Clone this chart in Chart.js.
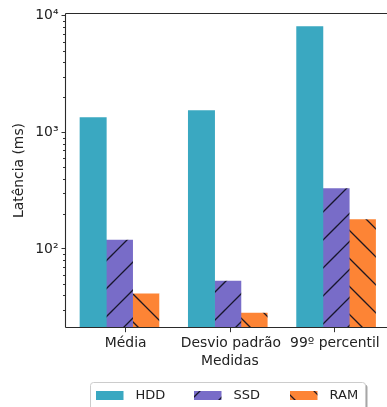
<!DOCTYPE html>
<html><head><meta charset="utf-8">
<script src="https://cdn.jsdelivr.net/npm/chart.js@4/dist/chart.umd.min.js"></script>
<style>html,body{margin:0;padding:0;overflow:hidden;background:#fff;width:387px;height:407px}canvas{display:block}</style>
</head><body>
<canvas id="c" width="400" height="407" style="width:400px;height:407px"></canvas>
<script>
// ---- data ----
const categories = ['Média', 'Desvio padrão', '99º percentil'];
const seriesNames = ['HDD', 'SSD', 'RAM'];
const hddValues = [1337, 1540, 8050];
const ssdValues = [119, 53.2, 330];
const ramValues = [41.2, 28.2, 179];
const yTickValues = [100, 1000, 10000];
const yTickLabels = ['10²', '10³', '10⁴'];
const xTickAt = [0.3, 1.272, 2.232];

// ---- styles ----
const BAR_W = 0.243;
const colors = ['#3aa8c1', '#786cc8', '#fd8435'];
const hatchKinds = [null, '/', '\\'];
const FONT = 'DejaVu Sans';
const TXT = '#222';

function makeFill(color, kind) {
  if (!kind) return color;
  const T = 28;
  const cv = document.createElement('canvas');
  cv.width = T; cv.height = T;
  const g = cv.getContext('2d');
  g.fillStyle = color; g.fillRect(0, 0, T, T);
  g.strokeStyle = 'rgba(15,15,30,0.92)';
  g.lineWidth = 1.3;
  g.beginPath();
  if (kind === '/') {
    const c = 3;
    for (const C of [c - T, c, c + T, c + 2 * T]) { g.moveTo(C + 2, -2); g.lineTo(-2, C + 2); }
  } else {
    const c = 7;
    for (const C of [c - T, c, c + T]) { g.moveTo(C - 2, -2); g.lineTo(C + T + 2, T + 2); }
  }
  g.stroke();
  return g.createPattern(cv, 'repeat');
}
const fills = colors.map((c, k) => makeFill(c, hatchKinds[k]));
const allSeries = [hddValues, ssdValues, ramValues];

const datasets = allSeries.map((vals, k) => ({
  label: seriesNames[k],
  data: vals.map((v, i) => ({x: i + k * BAR_W, y: v})),
  backgroundColor: fills[k],
  borderWidth: 0,
  grouped: false,
  barPercentage: 1,
  categoryPercentage: 1
}));

const framePlugin = {
  id: 'frame',
  afterDraw(chart) {
    const {ctx, chartArea: a, scales} = chart;
    ctx.save();
    const ys = scales.y;
    ctx.strokeStyle = '#333'; ctx.lineWidth = 1;
    ctx.beginPath();
    for (let e = 1; e <= 4; e++) {
      for (let m = 2; m <= 9; m++) {
        const v = m * Math.pow(10, e);
        if (v < ys.min || v > ys.max) continue;
        const py = Math.round(ys.getPixelForValue(v)) + 0.5;
        ctx.moveTo(a.left - 3, py); ctx.lineTo(a.left, py);
      }
    }
    ctx.stroke();
    ctx.strokeStyle = '#2a2a2a'; ctx.lineWidth = 1.1;
    ctx.beginPath();
    const L = Math.floor(a.left) - 0.5, T = Math.floor(a.top) + 0.5, B = Math.floor(a.bottom) + 0.5, R = Math.floor(a.right) + 0.5;
    ctx.moveTo(L, T); ctx.lineTo(R, T);
    ctx.moveTo(L, T); ctx.lineTo(L, B);
    ctx.moveTo(L, B); ctx.lineTo(R, B);
    ctx.moveTo(R, T); ctx.lineTo(R, B);
    ctx.stroke();
    const bx = 90.5, by = 382.5, bw = 275, bh = 40;
    ctx.fillStyle = 'rgba(0,0,0,0.35)';
    ctx.beginPath(); ctx.roundRect(bx + 2, by + 2, bw, bh, 3); ctx.fill();
    ctx.fillStyle = '#fff';
    ctx.strokeStyle = '#cccccc'; ctx.lineWidth = 1;
    ctx.beginPath(); ctx.roundRect(bx, by, bw, bh, 3); ctx.fill(); ctx.stroke();
    const swX = [96, 194, 290];
    ctx.font = '13px "' + FONT + '"';
    ctx.textBaseline = 'middle'; ctx.textAlign = 'left';
    for (let k = 0; k < 3; k++) {
      ctx.fillStyle = fills[k];
      ctx.fillRect(swX[k], 391, 27.5, 9);
      ctx.fillStyle = TXT;
      ctx.fillText(seriesNames[k], swX[k] + 39.5, 395.5);
    }
    ctx.restore();
  }
};

Chart.defaults.font.family = FONT;
Chart.defaults.font.size = 13.9;
Chart.defaults.color = TXT;

new Chart(document.getElementById('c'), {
  type: 'bar',
  data: {datasets},
  options: {
    responsive: false,
    animation: false,
    layout: {padding: {left: 0, top: 13.3, right: 6.4, bottom: 0}},
    plugins: {legend: {display: false}, tooltip: {enabled: false}},
    scales: {
      x: {
        type: 'linear',
        offset: false,
        min: -0.2507, max: 2.774,
        bounds: 'data',
        afterBuildTicks: s => { s.ticks = xTickAt.map(v => ({value: v})); },
        afterFit: s => { s.height = 407 - 327.7; },
        ticks: {autoSkip: false, maxRotation: 0, minRotation: 0, padding: 3,
          callback: (v, i) => categories[i]},
        grid: {offset: false, drawOnChartArea: false, drawTicks: true, tickLength: 4.5, tickColor: '#333', tickWidth: 1},
        border: {display: false},
        title: {display: true, text: 'Medidas', padding: {top: 0, bottom: 37.7}}
      },
      y: {
        type: 'logarithmic',
        min: 21.15, max: 10486,
        bounds: 'data',
        afterBuildTicks: s => { s.ticks = yTickValues.map(v => ({value: v})); },
        afterFit: s => { s.width = 66; },
        ticks: {autoSkip: false, padding: 3,
          callback: (v) => { const i = yTickValues.indexOf(v); return i >= 0 ? yTickLabels[i] : ''; }},
        grid: {drawOnChartArea: false, drawTicks: true, tickLength: 4.5, tickColor: '#333', tickWidth: 1},
        border: {display: false},
        title: {display: true, text: 'Latência (ms)', padding: {top: 11.2, bottom: 0}}
      }
    }
  },
  plugins: [framePlugin]
});
</script>
</body></html>
